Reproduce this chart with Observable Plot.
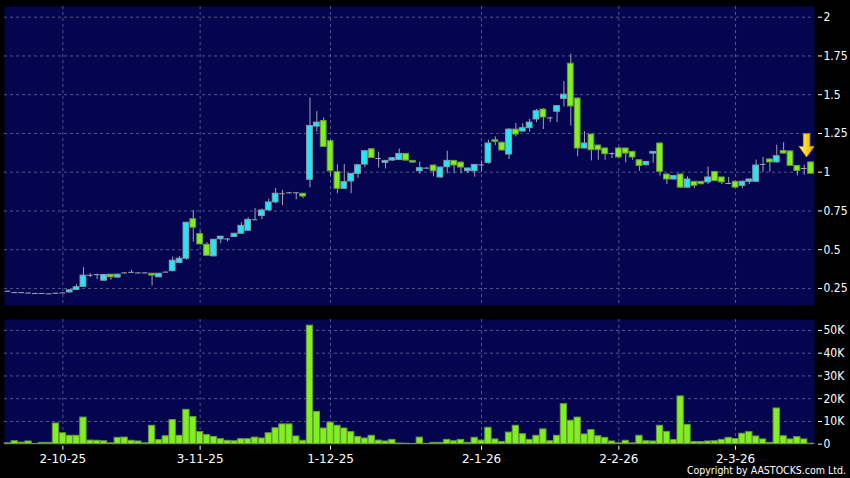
<!DOCTYPE html>
<html><head><meta charset="utf-8">
<script src="https://cdn.jsdelivr.net/npm/d3@7"></script>
<script src="https://cdn.jsdelivr.net/npm/@observablehq/plot@0.6"></script>
<style>
html,body{margin:0;padding:0;background:#000;}
#wrap{position:relative;width:850px;height:478px;background:#000;overflow:hidden;font-family:"DejaVu Sans",sans-serif;}
#wrap svg{position:absolute;left:0;}
#copy{position:absolute;right:4px;top:464px;color:#fff;font-size:10.5px;white-space:nowrap;font-family:"DejaVu Sans Condensed","DejaVu Sans",sans-serif;}
</style></head>
<body><div id="wrap"><div id="copy">Copyright by AASTOCKS.com Ltd.</div></div>
<script>
// ---- data (daily candles, oldest first) ----
const open = [
 .232,.223,.223,.220,.217,.217,.215,.219,.221,.224,
 .240,.260,.335,.339,.300,.339,.320,.350,.354,.350,
 .350,.345,.322,.355,.361,.414,.442,.697,.601,.532,
 .457,.567,.569,.582,.603,.622,.693,.717,.753,.805,
 .861,.867,.867,.861,.951,1.294,1.330,1.200,1.000,.893,
 .940,.989,1.049,1.148,1.088,1.060,1.075,1.079,1.118,1.073,
 1.006,1.026,1.043,.966,1.032,1.073,1.062,1.006,1.006,1.047,
 1.060,1.206,1.190,1.114,1.275,1.262,1.284,1.340,1.404,1.350,
 1.390,1.473,1.700,1.475,1.153,1.243,1.172,1.153,1.120,1.153,
 1.153,1.131,1.077,1.045,1.120,1.185,.985,.953,.985,.900,
 .938,.938,.934,1.002,.966,.927,.938,.912,.938,.938,
 1.050,1.082,1.063,1.137,1.134,1.041,1.024,1.063];
const high = [
 .234,.225,.225,.222,.219,.218,.217,.221,.223,.240,
 .275,.384,.345,.342,.340,.340,.341,.353,.367,.352,
 .352,.347,.347,.358,.453,.457,.676,.753,.620,.545,
 .566,.586,.571,.605,.674,.706,.766,.762,.826,.895,
 .882,.870,.869,.863,1.479,1.391,1.350,1.205,1.047,1.049,
 .992,1.050,1.140,1.150,1.129,1.075,1.095,1.150,1.120,1.075,
 1.065,1.030,1.045,1.032,1.135,1.075,1.065,1.026,1.050,1.073,
 1.206,1.228,1.195,1.280,1.314,1.314,1.340,1.405,1.410,1.355,
 1.430,1.586,1.761,1.480,1.262,1.245,1.175,1.155,1.125,1.160,
 1.155,1.135,1.080,1.068,1.133,1.190,.987,.977,.987,.970,
 .940,.940,1.034,1.005,.968,.966,.945,.945,.955,1.078,
 1.095,1.085,1.174,1.190,1.137,1.043,1.045,1.065];
const low = [
 .230,.221,.221,.218,.215,.214,.213,.217,.219,.222,
 .238,.258,.320,.307,.298,.303,.318,.345,.350,.347,
 .347,.266,.320,.352,.358,.410,.431,.549,.530,.458,
 .455,.539,.550,.578,.600,.620,.690,.693,.750,.796,
 .785,.860,.822,.830,.899,1.258,1.160,.970,.861,.890,
 .861,.960,1.030,1.090,1.028,1.021,1.070,1.075,1.070,1.060,
 .987,1.020,.970,.960,.990,.990,.990,.990,.968,1.000,
 1.051,1.172,1.137,1.082,1.228,1.260,1.258,1.320,1.275,1.320,
 1.320,1.421,1.297,1.099,1.150,1.073,1.077,1.077,1.088,1.090,
 1.060,1.077,1.006,1.040,1.058,.975,.920,.950,.897,.898,
 .895,.920,.920,.940,.920,.920,.898,.895,.920,.936,
 1.000,1.000,1.060,1.118,1.040,.975,.980,.990];
const close = [
 .232,.223,.223,.220,.217,.217,.215,.219,.221,.238,
 .258,.333,.335,.339,.337,.322,.339,.350,.354,.350,
 .350,.333,.345,.355,.429,.442,.674,.642,.534,.461,
 .564,.584,.569,.603,.654,.693,.693,.753,.805,.861,
 .861,.867,.867,.843,1.298,1.320,1.163,1.006,.893,.936,
 .989,1.045,1.135,1.092,1.088,1.073,1.090,1.118,1.075,1.062,
 1.026,1.026,1.006,1.030,1.073,1.043,1.030,1.024,1.047,1.047,
 1.185,1.196,1.140,1.275,1.243,1.284,1.320,1.394,1.353,1.350,
 1.426,1.500,1.424,1.153,1.185,1.142,1.142,1.116,1.120,1.095,
 1.120,1.095,1.040,1.066,1.131,1.002,.953,.975,.900,.953,
 .912,.922,.966,.942,.934,.927,.900,.938,.953,1.043,
 1.050,1.063,1.103,1.120,1.041,1.008,1.024,.990];
const volume = [
 400,1300,700,1200,100,600,600,9100,4800,3700,
 3700,11700,1600,1500,1300,400,2800,2900,1500,1200,
 400,8100,1800,3500,10600,3700,15100,11900,5300,4000,
 3200,2200,1500,1300,2200,2200,2900,2500,4800,7000,
 8700,8700,3400,1500,52100,14200,6900,9500,8100,6900,
 5300,3200,2500,3700,1600,1200,1900,300,200,100,
 2900,100,600,600,1900,1300,1900,600,2800,1600,
 7200,2100,1000,5100,8100,4400,1900,3700,6500,1300,
 3700,17600,10300,11700,4300,6200,3500,2800,1200,400,
 1500,400,3700,1300,1200,8100,5400,1800,21000,8500,
 1000,900,1200,1300,1900,2800,2300,4600,5300,3400,
 2100,600,15700,3500,2100,3100,2100,200];
// date ticks: bar index of each labelled trading day
const tickIndex = [8, 28, 47, 69, 89, 106];
const tickLabels = ["2-10-25", "3-11-25", "1-12-25", "2-1-26", "2-2-26", "2-3-26"];
const priceTicks = [0.25, 0.5, 0.75, 1, 1.25, 1.5, 1.75, 2];
const volumeTicks = [0, 10000, 20000, 30000, 40000, 50000];
// latest-price marker (down arrow) span in price units
const arrowTop = 1.245, arrowNeck = 1.163, arrowTip = 1.095;

// ---- styling ----
const NAVY = "#04044f", GRID = "#55558f", CYAN = "#22e6f6", GREEN = "#80f020",
      EDGE = "#8c9aa6", GEDGE = "#6a9a3a", WICK = "#a4a4b4";
const FONT = '"DejaVu Sans",sans-serif';
const AXFONT = '"DejaVu Sans Condensed","DejaVu Sans",sans-serif';

const n = open.length;
const rows = d3.range(n).map(i => ({i, o: open[i], h: high[i], l: low[i], c: close[i], v: volume[i]}));
const labelOf = new Map(tickIndex.map((t, k) => [t, tickLabels[k]]));
const hw = 0.42;

const arrowMark = (index, scales) => {
  const cx = scales.x(n - 1) - 4;
  const yT = scales.y(arrowTop), yN = scales.y(arrowNeck), yP = scales.y(arrowTip);
  const g = d3.create("svg:g");
  const grad = g.append("defs").append("linearGradient").attr("id", "ag").attr("x1", "0").attr("x2", "1");
  grad.append("stop").attr("offset", "0").attr("stop-color", "#fff6a8");
  grad.append("stop").attr("offset", "0.45").attr("stop-color", "#ffd820");
  grad.append("stop").attr("offset", "1").attr("stop-color", "#f0aa00");
  g.append("path")
    .attr("d", `M${cx-3.2},${yT}H${cx+3.2}V${yN}H${cx+7.5}L${cx},${yP}L${cx-7.5},${yN}H${cx-3.2}Z`)
    .attr("fill", "url(#ag)").attr("stroke", "#d89a00").attr("stroke-width", 0.8);
  return g.node();
};

const priceChart = Plot.plot({
  width: 850, height: 310, marginLeft: 4, marginRight: 36, marginTop: 6, marginBottom: 5,
  x: {domain: [-0.5, n - 0.5], axis: null},
  y: {domain: [0.14, 2.069], axis: null},
  style: {background: "transparent", color: "#fff", fontFamily: FONT, fontSize: "12px"},
  marks: [
    Plot.frame({fill: NAVY, stroke: null}),
    Plot.gridY(priceTicks, {stroke: GRID, strokeOpacity: 1, strokeDasharray: "3,3"}),
    Plot.gridX(tickIndex, {stroke: GRID, strokeOpacity: 1, strokeDasharray: "3,3"}),
    Plot.axisY(priceTicks, {anchor: "right", label: null, tickSize: 4, tickPadding: 2, dx: 3, tickFormat: d => String(d), color: "#fff", fontFamily: AXFONT, fontSize: 12}),
    Plot.ruleX(rows, {x: "i", y1: "l", y2: "h", stroke: WICK}),
    Plot.rect(rows.filter(d => d.c > d.o), {x1: d => d.i - hw, x2: d => d.i + hw, y1: "o", y2: "c", fill: CYAN, stroke: EDGE}),
    Plot.rect(rows.filter(d => d.c < d.o), {x1: d => d.i - hw, x2: d => d.i + hw, y1: "o", y2: "c", fill: GREEN, stroke: GEDGE}),
    Plot.ruleY(rows.filter(d => d.c === d.o), {x1: d => d.i - hw, x2: d => d.i + hw, y: "c", stroke: WICK}),
    arrowMark
  ]
});
priceChart.style.top = "0px";

const volChart = Plot.plot({
  width: 850, height: 168, marginLeft: 4, marginRight: 36, marginTop: 9, marginBottom: 34.3,
  x: {domain: [-0.5, n - 0.5], axis: null},
  y: {domain: [0, 54800], axis: null},
  style: {background: "transparent", color: "#fff", fontFamily: FONT, fontSize: "12px"},
  marks: [
    Plot.frame({fill: NAVY, stroke: null}),
    Plot.gridY(volumeTicks.filter(v => v > 0), {stroke: GRID, strokeOpacity: 1, strokeDasharray: "3,3"}),
    Plot.gridX(tickIndex, {stroke: GRID, strokeOpacity: 1, strokeDasharray: "3,3"}),
    Plot.rectY(rows, {x1: d => d.i - 0.46, x2: d => d.i + 0.46, y: "v", fill: GREEN, stroke: GEDGE}),
    Plot.axisY(volumeTicks, {anchor: "right", label: null, tickSize: 4, tickPadding: 2, dx: 3, tickFormat: d => d === 0 ? "0" : (d / 1000) + "K", color: "#fff", fontFamily: AXFONT, fontSize: 12}),
    Plot.axisX(tickIndex, {anchor: "bottom", label: null, tickSize: 4, tickPadding: 4, dy: 2, tickFormat: d => labelOf.get(d), color: "#fff"})
  ]
});
volChart.style.top = "310px";

const wrap = document.getElementById("wrap");
wrap.insertBefore(volChart, wrap.firstChild);
wrap.insertBefore(priceChart, wrap.firstChild);
</script>
</body></html>
